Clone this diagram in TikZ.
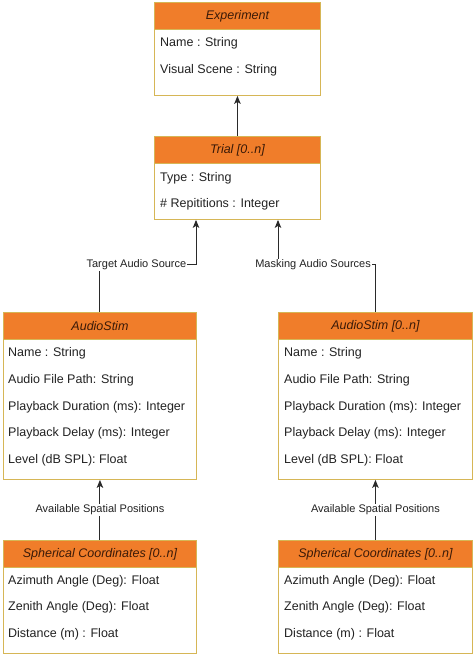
\documentclass[tikz,border=0pt]{standalone}
\usepackage{fontspec}
\setmainfont{Liberation Sans}
\usetikzlibrary{arrows.meta}
\definecolor{hdrfill}{HTML}{F07D2A}
\definecolor{boxline}{HTML}{D6B656}
\definecolor{hdrtext}{HTML}{3A1A08}
\definecolor{txt}{HTML}{222222}
\definecolor{conn}{HTML}{2A2A2A}
\tikzset{
  hdr/.style={draw=boxline, fill=hdrfill, line width=0.9pt, anchor=north west, inner sep=0pt,
    font=\fontsize{12.5}{14}\selectfont\itshape, text=hdrtext, minimum height=27pt},
  bodybox/.style={draw=boxline, fill=white, line width=0.9pt, anchor=north west, inner sep=0pt},
  row/.style={anchor=west, inner sep=0pt, font=\fontsize{12.5}{14}\selectfont, text=txt},
  lbl/.style={fill=white, inner sep=1pt, font=\fontsize{11}{13}\selectfont, text=txt},
  arr/.style={draw=conn, line width=1pt, -{Stealth[length=8pt,width=6.5pt,inset=2pt]}}
}
\begin{document}
\begin{tikzpicture}[x=1pt,y=-1pt]
\useasboundingbox (0,0) rectangle (474,656);
% Experiment
\node[bodybox, minimum width=166pt, minimum height=93pt] (expb) at (154,2) {};
\node[hdr, minimum width=166pt] (exph) at (154,2) {Experiment};
\node[row] (exp1) at (160,43) {Name : String};
\node[row] (exp2) at (160,70) {Visual Scene : String};
% Trial
\node[bodybox, minimum width=166pt, minimum height=83pt] (trialb) at (154,136) {};
\node[hdr, minimum width=166pt] (trialh) at (154,136) {Trial [0..n]};
\node[row] (tr1) at (160,178) {Type : String};
\node[row] (tr2) at (160,204) {\# Repititions : Integer};
% AudioStim left
\node[bodybox, minimum width=193pt, minimum height=167pt] (aslb) at (3,312) {};
\node[hdr, minimum width=193pt] (aslh) at (3,312) {AudioStim};
\node[row] (asl1) at (8,353) {Name : String};
\node[row] (asl2) at (8,380) {Audio File Path: String};
\node[row] (asl3) at (8,407) {Playback Duration (ms): Integer};
\node[row] (asl4) at (8,433) {Playback Delay (ms): Integer};
\node[row] (asl5) at (8,460) {Level (dB SPL): Float};
% AudioStim right
\node[bodybox, minimum width=194pt, minimum height=167pt] (asrb) at (278,312) {};
\node[hdr, minimum width=194pt] (asrh) at (278,312) {AudioStim [0..n]};
\node[row] (asr1) at (284,353) {Name : String};
\node[row] (asr2) at (284,380) {Audio File Path: String};
\node[row] (asr3) at (284,407) {Playback Duration (ms): Integer};
\node[row] (asr4) at (284,433) {Playback Delay (ms): Integer};
\node[row] (asr5) at (284,460) {Level (dB SPL): Float};
% Spherical left
\node[bodybox, minimum width=193pt, minimum height=113pt] (sclb) at (3,540) {};
\node[hdr, minimum width=193pt] (sclh) at (3,540) {Spherical Coordinates [0..n]};
\node[row] (scl1) at (8,581) {Azimuth Angle (Deg): Float};
\node[row] (scl2) at (8,607) {Zenith Angle (Deg): Float};
\node[row] (scl3) at (8,634) {Distance (m) : Float};
% Spherical right
\node[bodybox, minimum width=194pt, minimum height=113pt] (scrb) at (278,540) {};
\node[hdr, minimum width=194pt] (scrh) at (278,540) {Spherical Coordinates [0..n]};
\node[row] (scr1) at (284,581) {Azimuth Angle (Deg): Float};
\node[row] (scr2) at (284,607) {Zenith Angle (Deg): Float};
\node[row] (scr3) at (284,634) {Distance (m) : Float};
% connectors
\draw[arr] (trialh.north) -- (expb.south);
\draw[arr] (aslh.north) |- node[lbl, pos=0.69] {Target Audio Source}
  ([xshift=42pt,yshift=-45pt]trialb.south west) -- ([xshift=42pt]trialb.south west);
\draw[arr] (asrh.north) |- node[lbl, pos=0.82] {Masking Audio Sources}
  ([xshift=124pt,yshift=-45pt]trialb.south west) -- ([xshift=124pt]trialb.south west);
\draw[arr] (sclh.north) -- node[lbl] {Available Spatial Positions} (aslb.south);
\draw[arr] (scrh.north) -- node[lbl] {Available Spatial Positions} (asrb.south);
\end{tikzpicture}
\end{document}
